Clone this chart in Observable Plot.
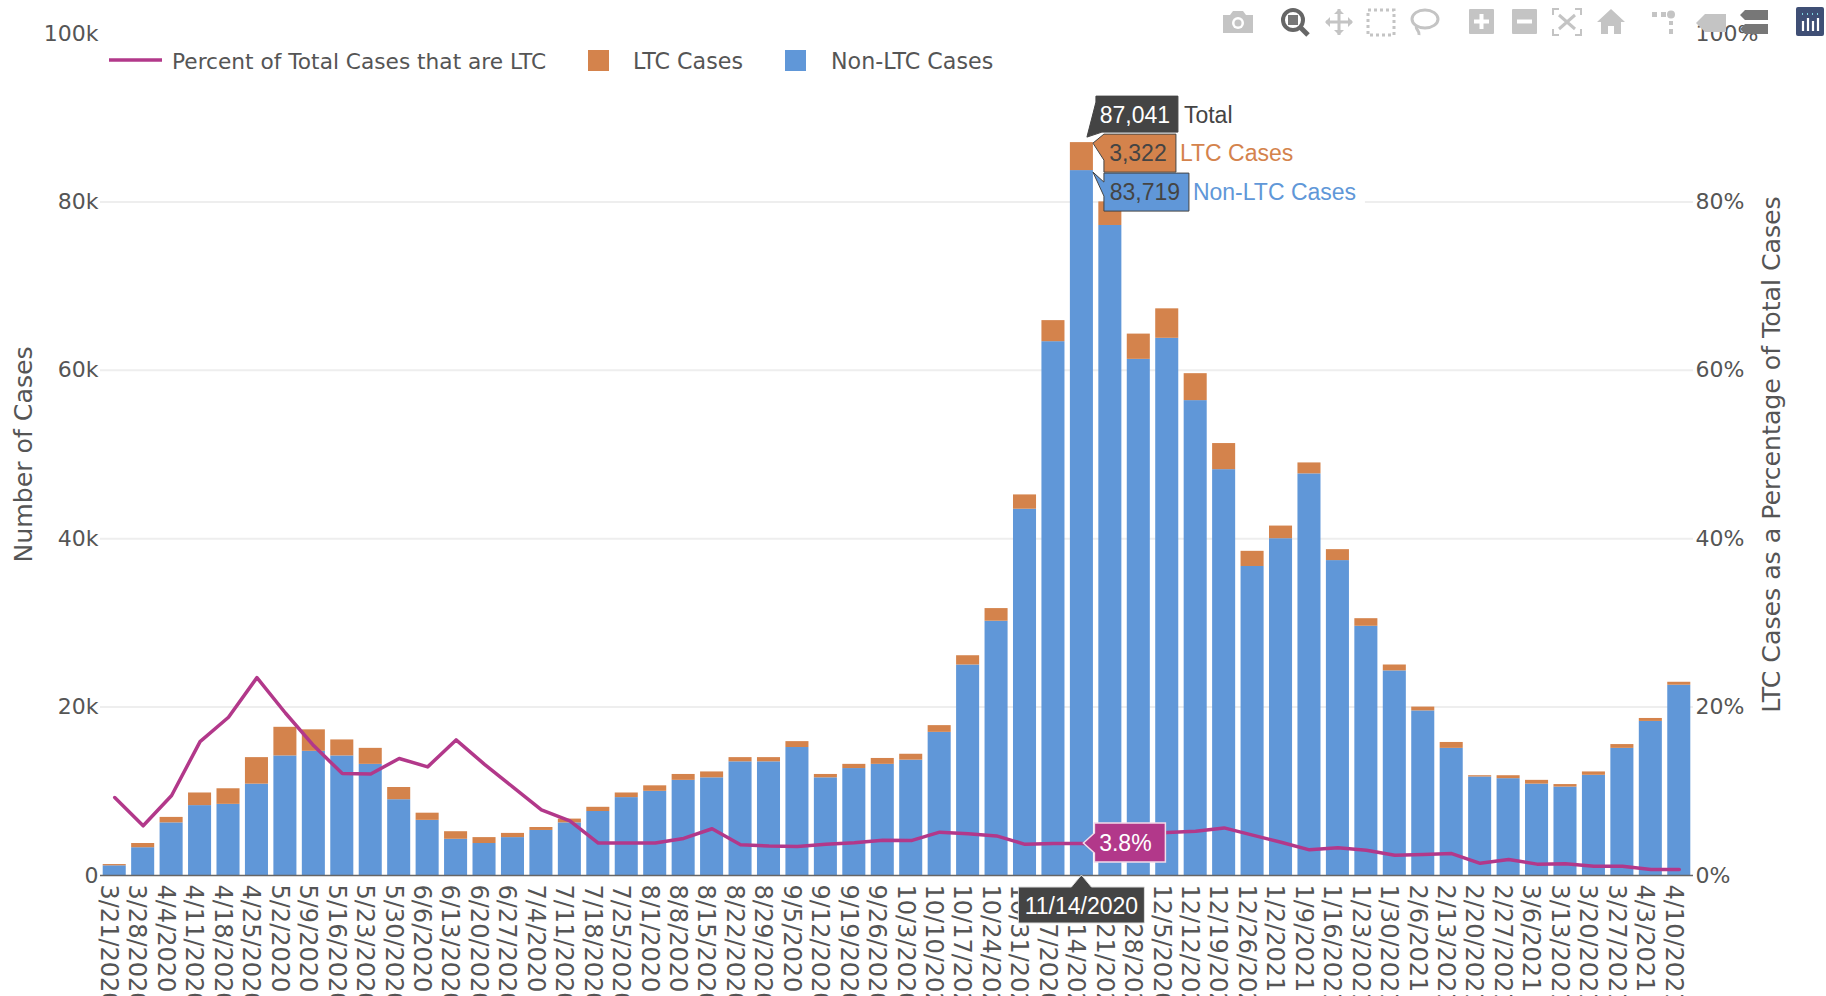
<!DOCTYPE html>
<html>
<head>
<meta charset="utf-8">
<script src="https://cdn.jsdelivr.net/npm/d3@7"></script>
<script src="https://cdn.jsdelivr.net/npm/@observablehq/plot@0.6"></script>
<style>
html,body{margin:0;padding:0;background:#fff;overflow:hidden}
svg{display:block}
</style>
</head>
<body>
<div id="chart"></div>
<script>
const dates = ["3/21/2020","3/28/2020","4/4/2020","4/11/2020","4/18/2020","4/25/2020","5/2/2020","5/9/2020","5/16/2020","5/23/2020","5/30/2020","6/6/2020","6/13/2020","6/20/2020","6/27/2020","7/4/2020","7/11/2020","7/18/2020","7/25/2020","8/1/2020","8/8/2020","8/15/2020","8/22/2020","8/29/2020","9/5/2020","9/12/2020","9/19/2020","9/26/2020","10/3/2020","10/10/2020","10/17/2020","10/24/2020","10/31/2020","11/7/2020","11/14/2020","11/21/2020","11/28/2020","12/5/2020","12/12/2020","12/19/2020","12/26/2020","1/2/2021","1/9/2021","1/16/2021","1/23/2021","1/30/2021","2/6/2021","2/13/2021","2/20/2021","2/27/2021","3/6/2021","3/13/2021","3/20/2021","3/27/2021","4/3/2021","4/10/2021"];
const nonLtc = [1150,3300,6250,8300,8450,10850,14200,14750,14200,13200,9000,6550,4300,3800,4500,5350,6250,7600,9250,10000,11300,11600,13500,13500,15200,11600,12700,13200,13700,17000,25000,30200,43500,63400,83719,77200,61300,63800,56400,48200,36700,40000,47700,37400,29600,24300,19550,15100,11700,11500,10850,10500,11900,15100,18300,22600];
const ltc = [150,500,650,1500,1850,3150,3400,2550,1900,1900,1450,850,900,700,500,350,450,500,550,650,700,700,500,500,700,400,500,700,700,800,1100,1500,1700,2500,3322,2800,3000,3500,3200,3100,1800,1500,1300,1300,900,700,450,700,150,350,450,300,400,450,350,350];
const percent = [9.26,5.9,9.5,15.9,18.8,23.5,19.3,15.4,12.1,12.05,13.9,12.9,16.1,13.2,10.5,7.8,6.5,3.85,3.85,3.85,4.4,5.55,3.65,3.5,3.45,3.7,3.9,4.2,4.15,5.15,4.95,4.7,3.7,3.8,3.8,3.6,4.7,5.1,5.25,5.65,4.8,3.95,3.05,3.3,3.0,2.4,2.5,2.6,1.45,1.9,1.35,1.4,1.1,1.1,0.7,0.7];
const seriesNames = ["Non-LTC Cases","LTC Cases"];
const seriesColors = ["#6097d8","#d4834c"];
const lineName = "Percent of Total Cases that are LTC";
const lineColor = "#b2388a";
const yTicks = [0,20000,40000,60000,80000,100000];
const gridTicks = [20000,40000,60000,80000];
const hoverDate = "11/14/2020";

const FONT = "'DejaVu Sans', Verdana, sans-serif";
const HOVER_FONT = "'Liberation Sans', Arial, sans-serif";
const TEXT = "#555";
const stacked = dates.flatMap((d,i)=>[
  {date:d, series:seriesNames[0], value:nonLtc[i]},
  {date:d, series:seriesNames[1], value:ltc[i]}
]);
const lineRows = dates.map((d,i)=>({date:d, pct:percent[i]}));
const fmt = d3.format(",");

function addText(g,x,y,str,opts={}){
  return g.append("text").attr("x",x).attr("y",y).attr("dy","0.35em")
    .attr("font-family",opts.font||FONT).attr("font-size",opts.size||21.7)
    .attr("fill",opts.fill||TEXT).attr("text-anchor",opts.anchor||"start").text(str);
}

// Legend
function legendMark(){
  const g = d3.create("svg:g");
  const cy = 60;
  g.append("line").attr("x1",109).attr("x2",162).attr("y1",cy).attr("y2",cy).attr("stroke",lineColor).attr("stroke-width",3.5);
  addText(g,172,cy+1,lineName);
  g.append("rect").attr("x",588).attr("y",cy-10).attr("width",21).attr("height",21).attr("fill",seriesColors[1]);
  addText(g,633,cy+1,seriesNames[1],{size:22.2});
  g.append("rect").attr("x",785).attr("y",cy-10).attr("width",21).attr("height",21).attr("fill",seriesColors[0]);
  addText(g,831,cy+1,seriesNames[0],{size:22.2});
  return g.node();
}

// Hover labels anchored on the hovered bar through the scales
function hoverMark(index, scales){
  const g = d3.create("svg:g");
  const i = dates.indexOf(hoverDate);
  const bw = scales.x.bandwidth ? scales.x.bandwidth() : 0;
  const left = scales.x(hoverDate);
  const right = left + bw;
  const cx = left + bw/2;
  const total = nonLtc[i]+ltc[i];
  const yTotal = scales.y(total), yNon = scales.y(nonLtc[i]);
  const h = {font:HOVER_FONT,size:23};
  // white backing for the secondary label
  g.append("rect").attr("x",right+96).attr("y",yNon+3).attr("width",176).attr("height",38).attr("fill","#fff");
  // total
  g.append("path").attr("d",`M${right-6},${yTotal-5}L${right+3},${yTotal-40}V${yTotal-46}H${right+85}V${yTotal-10}H${right+9}Z`).attr("fill","#444").attr("stroke","#444");
  addText(g,right+42,yTotal-27,fmt(total),{...h,fill:"#fff",anchor:"middle"});
  addText(g,right+91,yTotal-27,"Total",{...h,fill:"#444"});
  // LTC
  g.append("path").attr("d",`M${right},${yTotal+1}L${right+11},${yTotal-8}H${right+83}V${yTotal+30}H${right+11}V${yTotal+18}Z`).attr("fill",seriesColors[1]).attr("stroke","#444");
  addText(g,right+45,yTotal+11,fmt(ltc[i]),{...h,fill:"#444",anchor:"middle"});
  addText(g,right+87,yTotal+11,seriesNames[1],{...h,fill:seriesColors[1]});
  // Non-LTC
  g.append("path").attr("d",`M${right},${yNon+2}L${right+11},${yNon+12}V${yNon+3}H${right+96}V${yNon+41}H${right+11}V${yNon+26}Z`).attr("fill",seriesColors[0]).attr("stroke","#444");
  addText(g,right+52,yNon+22,fmt(nonLtc[i]),{...h,fill:"#444",anchor:"middle"});
  addText(g,right+100,yNon+22,seriesNames[0],{...h,fill:seriesColors[0]});
  // percent
  const yp = scales.y(percent[i]*1000);
  g.append("path").attr("d",`M${cx+2},${yp}L${cx+13},${yp-10}V${yp-20}H${cx+84}V${yp+19}H${cx+13}V${yp+10}Z`).attr("fill",lineColor).attr("stroke","#f3dcea").attr("stroke-width",1.5);
  addText(g,cx+44,yp,percent[i].toFixed(1)+"%",{...h,fill:"#fff",anchor:"middle"});
  // date
  const y0 = scales.y(0);
  g.append("path").attr("d",`M${cx},${y0}L${cx+10},${y0+12}H${cx+63}V${y0+48}H${cx-63}V${y0+12}H${cx-10}Z`).attr("fill","#444").attr("stroke","#ddd");
  addText(g,cx,y0+31,hoverDate,{...h,fill:"#fff",anchor:"middle"});
  return g.node();
}

// Modebar (plain chrome, drawn on top of the axis)
function modebarMark(){
  const g = d3.create("svg:g");
  const grey = "#c4c4c4";
  const ic = (x,y,html) => g.append("g").attr("transform",`translate(${x},${y})`).html(html);
  ic(1223,10,`<path d="M0 5h7l3-4h10l3 4h7v18H0z" fill="${grey}"/><circle cx="15" cy="13" r="6" fill="#fff"/><circle cx="15" cy="13" r="3.5" fill="${grey}"/>`);
  ic(1281,8,`<circle cx="12" cy="12" r="10" fill="none" stroke="#666" stroke-width="4"/><rect x="7" y="7" width="10" height="10" fill="#777"/><path d="M19 19l8 8" stroke="#666" stroke-width="5"/>`);
  ic(1325,9,`<path d="M14 0v26M1 13h26" stroke="${grey}" stroke-width="3"/><path d="M14 0l-5 5h10zM14 26l-5-5h10zM0 13l5-5v10zM28 13l-5-5v10z" fill="${grey}"/>`);
  ic(1367,9,`<rect x="1" y="1" width="26" height="25" fill="none" stroke="${grey}" stroke-width="3" stroke-dasharray="3 3"/>`);
  ic(1410,9,`<ellipse cx="15" cy="10" rx="13" ry="9" fill="none" stroke="${grey}" stroke-width="3"/><path d="M7 16c-3 4 3 5 2 10" fill="none" stroke="${grey}" stroke-width="3"/>`);
  ic(1469,9,`<rect width="25" height="25" rx="1" fill="${grey}"/><path d="M12.5 5v15M5 12.5h15" stroke="#fff" stroke-width="4"/>`);
  ic(1512,9,`<rect width="25" height="25" rx="1" fill="${grey}"/><path d="M5 12.5h15" stroke="#fff" stroke-width="4"/>`);
  ic(1552,8,`<path d="M7 1H1v6M23 1h6v6M7 27H1v-6M23 27h6v-6" fill="none" stroke="${grey}" stroke-width="2"/><path d="M7 7l16 14M23 7L7 21" stroke="${grey}" stroke-width="3"/>`);
  ic(1597,9,`<path d="M14 0L0 13h4v12h7v-8h6v8h7V13h4z" fill="${grey}"/>`);
  ic(1652,11,`<rect y="1" width="5" height="5" fill="${grey}"/><rect x="9" y="1" width="5" height="5" fill="${grey}"/><circle cx="19" cy="3.5" r="4" fill="${grey}"/><rect x="17" y="10" width="4" height="4" fill="${grey}"/><rect x="17" y="18" width="4" height="5" fill="${grey}"/>`);
  ic(1696,14,`<path d="M0 9L9 0h21v18H9z" fill="${grey}"/>`);
  ic(1740,10,`<path d="M0 5L5 0h23v10H5zM0 19l5-5h23v10H5z" fill="#777"/>`);
  ic(1796,7,`<rect width="28" height="29" rx="2" fill="#3f4f75"/><path d="M7 14v10M12 11v13M17 14v10M22 11v13" stroke="#fff" stroke-width="2.2"/><path d="M6 7h1M11 7h1M16 7h1M21 7h1" stroke="#7fd3e0" stroke-width="2"/>`);
  return g.node();
}

const chart = Plot.plot({
  width:1826, height:996,
  marginLeft:100, marginRight:133, marginTop:33, marginBottom:121,
  style:{fontFamily:FONT, background:"#fff", color:TEXT, overflow:"hidden"},
  x:{type:"band", domain:dates, padding:0.19, paddingOuter:0.095, round:false, label:null},
  y:{domain:[0,100000], label:null},
  color:{domain:seriesNames, range:seriesColors},
  marks:[
    Plot.ruleY(gridTicks,{stroke:"#eee",strokeWidth:2}),
    Plot.barY(stacked,{x:"date",y:"value",fill:"series",order:seriesNames}),
    Plot.ruleY([0],{stroke:"#666",strokeWidth:1.5}),
    Plot.line(lineRows,{x:"date",y:d=>d.pct*1000,stroke:lineColor,strokeWidth:3.5}),
    Plot.axisX({ticks:dates,tickSize:0,tickRotate:90,tickPadding:9,dx:-6,fontSize:24,label:null,fill:TEXT}),
    Plot.axisY({anchor:"left",ticks:yTicks,tickSize:0,tickPadding:2,fontSize:22,label:null,fill:TEXT,tickFormat:d=>d?d/1000+"k":"0"}),
    Plot.axisY({anchor:"right",ticks:yTicks,tickSize:0,tickPadding:2,fontSize:22,label:null,fill:TEXT,tickFormat:d=>d/1000+"%"}),
    Plot.text(["Number of Cases"],{frameAnchor:"left",textAnchor:"middle",rotate:-90,dx:-77,fontSize:25.2,fill:TEXT}),
    Plot.text(["LTC Cases as a Percentage of Total Cases"],{frameAnchor:"right",textAnchor:"middle",rotate:-90,dx:78,fontSize:25.2,fill:TEXT}),
    legendMark,
    hoverMark,
    modebarMark
  ]
});
document.getElementById("chart").appendChild(chart);
</script>
</body>
</html>
